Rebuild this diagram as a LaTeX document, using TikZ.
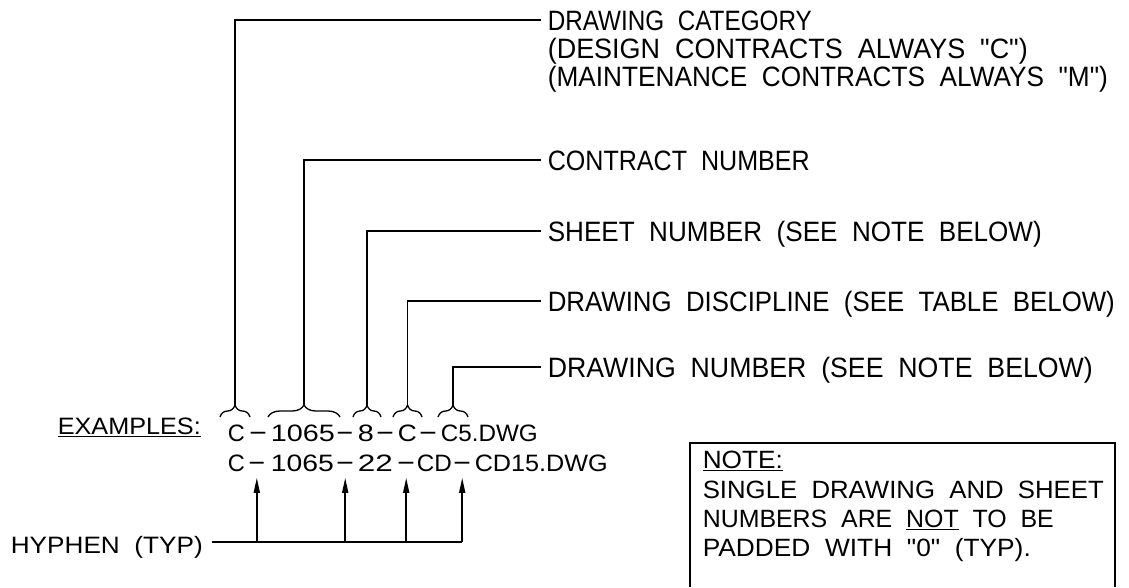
\documentclass[tikz,border=0pt]{standalone}
\usepackage{fontspec}
\usepackage{graphicx}
\usetikzlibrary{decorations.pathreplacing,arrows.meta}
\newfontfamily\cad{Liberation Sans}[WordSpace=2]
\newcommand\fw[2]{\resizebox{#1pt}{\height}{#2}}
\newcommand\hy{\raisebox{1.2pt}{-}}
\newcommand\myul[1]{\leavevmode\setbox0\hbox{#1}\rlap{\rule[-3pt]{\wd0}{1.5pt}}\box0}
\begin{document}
\begin{tikzpicture}[x=1pt,y=-1pt,line width=1.6pt,
  lbl/.style={font=\cad\fontsize{28}{28}\selectfont,anchor=west,inner xsep=6pt,inner ysep=0pt,text height=20pt,text depth=0pt},
  seg/.style={font=\cad\fontsize{23.7}{24}\selectfont,anchor=base west,inner sep=0pt},
  notetxt/.style={font=\cad\fontsize{25}{25}\selectfont,anchor=base west,inner sep=0pt},
  brc/.style={decorate,decoration={brace,amplitude=12pt},line width=1.3pt},
  ld/.style={line width=1.6pt},
  arr/.style={-{Triangle[length=15pt,width=6pt]},line width=1.6pt}]
\fill[white] (0,0) rectangle (1129,587);
\useasboundingbox (0,0) rectangle (1129,587);

% labels
\node[lbl] (catA) at (541,20) {\fw{264}{DRAWING CATEGORY}};
\node[lbl] (catB) at (541,48) {\fw{480}{(DESIGN CONTRACTS ALWAYS "C")}};
\node[lbl] (catC) at (541,76) {\fw{560}{(MAINTENANCE CONTRACTS ALWAYS "M")}};
\node[lbl] (con) at (541,160) {\fw{262}{CONTRACT NUMBER}};
\node[lbl] (sht) at (541,231) {\fw{494}{SHEET NUMBER (SEE NOTE BELOW)}};
\node[lbl] (dis) at (541,301) {\fw{567}{DRAWING DISCIPLINE (SEE TABLE BELOW)}};
\node[lbl] (dnum) at (541,367) {\fw{545}{DRAWING NUMBER (SEE NOTE BELOW)}};

% examples
\node[seg] (ex) at (57,434) {\fw{143}{\myul{EXAMPLES:}}};
\node[seg] (r1c) at (227,441) {\fw{17}{C}};
\node[seg] (r1h1) at (247.4,441) {\fw{20}{\hy}};
\node[seg] (r1n) at (270,441) {\fw{64}{1065}};
\node[seg] (r1h2) at (334.5,441) {\fw{19}{\hy}};
\node[seg] (r1s) at (357,441) {\fw{16}{8}};
\node[seg] (r1h3) at (374.4,441) {\fw{20}{\hy}};
\node[seg] (r1d) at (397,441) {\fw{19}{C}};
\node[seg] (r1h4) at (417.4,441) {\fw{20}{\hy}};
\node[seg] (r1g) at (440,441) {\fw{97}{C5.DWG}};

\node[seg] (r2c) at (227,471) {\fw{17}{C}};
\node[seg] (r2h1) at (246.5,471) {\fw{19}{\hy}};
\node[seg] (r2n) at (270,471) {\fw{63}{1065}};
\node[seg] (r2h2) at (334.4,471) {\fw{20}{\hy}};
\node[seg] (r2s) at (357,471) {\fw{35}{22}};
\node[seg] (r2h3) at (395.4,471) {\fw{20}{\hy}};
\node[seg] (r2d) at (416,471) {\fw{35}{CD}};
\node[seg] (r2h4) at (451.4,471) {\fw{20}{\hy}};
\node[seg] (r2g) at (474,471) {\fw{133}{CD15.DWG}};

\node[seg,inner xsep=8.5pt] (hyp) at (1.5,553) {\fw{192}{HYPHEN (TYP)}};

% note
\draw[ld] (690,587) -- (690,443) -- (1115,443) -- (1115,587);
\node[notetxt] (nt1) at (702,468) {\fw{80}{\myul{NOTE:}}};
\node[notetxt] (nt2) at (702,498) {\fw{401}{SINGLE DRAWING AND SHEET}};
\node[notetxt] (nt3) at (702,527) {\fw{351}{NUMBERS ARE \myul{NOT}\ TO BE}};
\node[notetxt] (nt4) at (702,556) {\fw{328}{PADDED WITH "0" (TYP).}};

% braces
\draw[brc] (220,417) -- (250,417);
\draw[brc] (268,417) -- (340,417);
\draw[brc] (353,417) -- (381,417);
\draw[brc] (393,417) -- (422,417);
\draw[brc] (438,417) -- (468,417);
\coordinate (tA) at (235,405);
\coordinate (tB) at (304,405);
\coordinate (tC) at (367,405);
\coordinate (tD) at (407.5,405);
\coordinate (tE) at (453,405);

% leaders
\draw[ld] (tA) |- (catA.west);
\draw[ld] (tB) |- (con.west);
\draw[ld] (tC) |- (sht.west);
\draw[ld] (tD) |- (dis.west);
\draw[ld] (tE) |- (dnum.west);

% hyphen arrows
\coordinate (hl) at (0,542);
\draw[arr] (r2h1.south |- hl) -- ([yshift=-6pt]r2h1.south);
\draw[arr] (r2h2.south |- hl) -- ([yshift=-6pt]r2h2.south);
\draw[arr] (r2h3.south |- hl) -- ([yshift=-6pt]r2h3.south);
\draw[arr] (r2h4.south |- hl) -- ([yshift=-6pt]r2h4.south);
\draw[ld] (hyp.east |- hl) -- (r2h4.south |- hl);
\end{tikzpicture}
\end{document}
